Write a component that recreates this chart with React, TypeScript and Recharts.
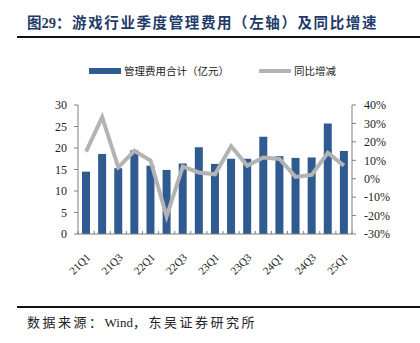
import React from 'react';
import { ComposedChart, Bar, Line, XAxis, YAxis, Legend } from 'recharts';

const quarters = ['21Q1', '21Q2', '21Q3', '21Q4', '22Q1', '22Q2', '22Q3', '22Q4', '23Q1', '23Q2', '23Q3', '23Q4', '24Q1', '24Q2', '24Q3', '24Q4', '25Q1'];
const expense = [14.5, 18.6, 15.3, 19.5, 15.9, 14.9, 16.4, 20.2, 16.3, 17.5, 17.5, 22.6, 18.1, 17.7, 17.8, 25.7, 19.3];
const yoy = [14.7, 33.4, 6.2, 15.1, 9.9, -20.4, 6.6, 3.4, 2.4, 17.6, 7.1, 11.5, 10.7, 1.0, 2.1, 14.0, 7.1];
const leftTicks = [0, 5, 10, 15, 20, 25, 30];
const rightTicks = [-30, -20, -10, 0, 10, 20, 30, 40];
const barName = '管理费用合计（亿元）';
const lineName = '同比增减';

const data = quarters.map((q, i) => ({ q, expense: expense[i], yoy: yoy[i] }));

const BAR_COLOR = '#2F5B91';
const LINE_COLOR = '#B3B3B3';
const AXIS_COLOR = '#7f7f7f';
const serif = '"Liberation Serif", "Times New Roman", "Noto Sans CJK SC", serif';
const cjk = '"Liberation Serif", "Noto Sans CJK SC", serif';

// half of one category band, for the small ticks between bars
const HALF_BAND = (352 - 78) / quarters.length / 2;

const XTick = (props: any) => {
  const { x, y, payload, index } = props;
  return (
    <g>
      <line x1={x + HALF_BAND} x2={x + HALF_BAND} y1={234} y2={231} stroke={AXIS_COLOR} />
      {index === 0 && <line x1={x - HALF_BAND} x2={x - HALF_BAND} y1={234} y2={231} stroke={AXIS_COLOR} />}
      {index % 2 === 0 && (
        <g transform={`translate(${x + 5},${y + 16})`}>
          <text textAnchor="end" transform="rotate(-45)" fontSize={11} fontFamily={serif} fill="#222">
            {payload.value}
          </text>
        </g>
      )}
    </g>
  );
};

const LegendContent = () => (
  <div style={{ display: 'flex', paddingLeft: 89, fontFamily: cjk, fontSize: 10.5, color: '#222' }}>
    <div style={{ display: 'flex', alignItems: 'center', marginRight: 30 }}>
      <div style={{ width: 32, height: 6, background: BAR_COLOR, marginRight: 3 }} />
      <span>{barName}</span>
    </div>
    <div style={{ display: 'flex', alignItems: 'center' }}>
      <div style={{ width: 32, height: 4, background: LINE_COLOR, marginRight: 3 }} />
      <span>{lineName}</span>
    </div>
  </div>
);

export default function App() {
  return (
    <div style={{ position: 'absolute', left: 0, top: 0, width: 420, height: 343, background: '#fff', fontFamily: cjk }}>
      <div style={{ position: 'absolute', left: 27, top: 11, fontSize: 14.5, fontWeight: 'bold', color: '#1F3A68', whiteSpace: 'nowrap' }}>
        <span>图29</span>
        <span style={{ letterSpacing: 1.6 }}>：游戏行业季度管理费用（左轴）及同比增速</span>
      </div>
      <div style={{ position: 'absolute', left: 17, top: 36, width: 403, height: 2, background: '#111' }} />
      <div style={{ position: 'absolute', left: 0, top: 0 }}>
        <ComposedChart width={420} height={290} data={data} margin={{ top: 90, right: 0, bottom: 0, left: 0 }}>
          <Legend verticalAlign="top" wrapperStyle={{ top: 63, left: 0, width: 420 }} content={<LegendContent />} />
          <XAxis
            dataKey="q"
            interval={0}
            height={56}
            tick={<XTick />}
            tickLine={false}
            axisLine={{ stroke: AXIS_COLOR }}
          />
          <YAxis
            yAxisId="left"
            width={78}
            domain={[0, 30]}
            ticks={leftTicks}
            interval={0}
            tickSize={4}
            tickMargin={7}
            axisLine={{ stroke: AXIS_COLOR }}
            tickLine={{ stroke: AXIS_COLOR }}
            tick={{ fontSize: 12, fontFamily: serif, fill: '#222' }}
          />
          <YAxis
            yAxisId="right"
            orientation="right"
            width={68}
            domain={[-30, 40]}
            ticks={rightTicks}
            interval={0}
            tickSize={4}
            tickMargin={8}
            tickFormatter={(v: number) => `${v}%`}
            axisLine={{ stroke: AXIS_COLOR }}
            tickLine={{ stroke: AXIS_COLOR }}
            tick={{ fontSize: 12, fontFamily: serif, fill: '#222' }}
          />
          <Bar yAxisId="left" dataKey="expense" name={barName} fill={BAR_COLOR} barSize={8} isAnimationActive={false} />
          <Line
            yAxisId="right"
            dataKey="yoy"
            name={lineName}
            type="linear"
            stroke={LINE_COLOR}
            strokeWidth={4}
            dot={false}
            isAnimationActive={false}
          />
        </ComposedChart>
      </div>
      <div style={{ position: 'absolute', left: 17, top: 306, width: 403, height: 2, background: '#111' }} />
      <div style={{ position: 'absolute', left: 27, top: 312, fontSize: 13, color: '#222', whiteSpace: 'nowrap' }}>
        <span style={{ letterSpacing: 2.5 }}>数据来源：</span>
        <span>Wind</span>
        <span style={{ letterSpacing: 2.5 }}>，东吴证券研究所</span>
      </div>
    </div>
  );
}
